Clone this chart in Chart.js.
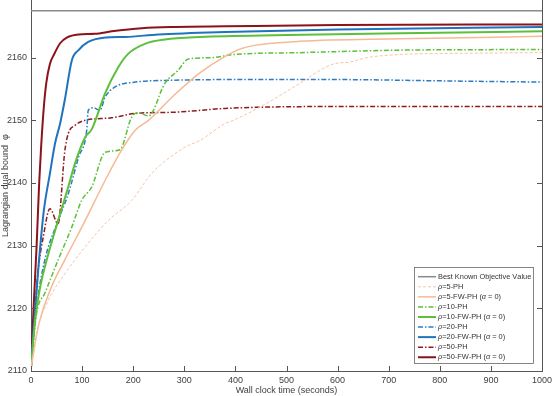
<!DOCTYPE html>
<html>
<head>
<meta charset="utf-8">
<script src="https://cdn.jsdelivr.net/npm/chart.js@4.4.0/dist/chart.umd.min.js"></script>
<style>
  html, body { margin: 0; padding: 0; background: #fff; }
  #wrap { width: 555px; height: 396px; }
</style>
</head>
<body>
<div id="wrap"><canvas id="dualChart" width="555" height="396"></canvas></div>
<script>
// values (wall clock seconds / dual bound)
const bestKnown = 2167.5;
const tBest = [0, 1000];

const t5PH  = [0, 5, 14, 34, 66, 106, 151, 197, 236, 301, 331, 380, 396, 461, 526, 592, 624, 657, 722, 850, 1000];
const v5PH  = [2110.5, 2112.8, 2117, 2121.3, 2125.5, 2129.8, 2134, 2137.2, 2141.5, 2145.7, 2146.8, 2149.5, 2150, 2152.7, 2155.9, 2159, 2159.3, 2160, 2160.5, 2160.7, 2160.8];

const t5FW  = [0, 14, 40, 66, 106, 145, 177, 204, 230, 280, 331, 380, 410, 440, 526, 722, 1000];
const v5FW  = [2110.5, 2117, 2123.4, 2127.7, 2134, 2140.4, 2145.2, 2148.4, 2150, 2154, 2157.6, 2160.2, 2161.4, 2162, 2162.6, 2163.0, 2163.4];

const t10PH = [0, 11, 27, 53, 80, 99, 119, 145, 174, 197, 210, 230, 262, 288, 308, 354, 396, 526, 722, 1000];
const v10PH = [2110.5, 2119.2, 2122.4, 2127.7, 2133, 2137.2, 2139.4, 2144.9, 2145.3, 2150.5, 2151.2, 2150.7, 2155.9, 2158, 2159.8, 2160, 2160.5, 2160.8, 2161.2, 2161.3];

const t10FW = [0, 8, 18, 34, 53, 73, 86, 106, 119, 145, 171, 190, 223, 262, 331, 500, 722, 1000];
const v10FW = [2110.5, 2118.1, 2123.4, 2128.7, 2134, 2139.4, 2143.1, 2147.3, 2148.6, 2154.3, 2158.5, 2160.6, 2162.2, 2162.9, 2163.3, 2163.6, 2163.9, 2164.2];

const t20PH = [0, 11, 27, 53, 73, 93, 109, 112, 122, 135, 145, 164, 204, 282, 380, 600, 800, 1000];
const v20PH = [2110.5, 2120.2, 2127.7, 2134, 2138.3, 2144.1, 2148.4, 2151.6, 2152, 2151.6, 2153.7, 2155.3, 2156.1, 2156.4, 2156.5, 2156.5, 2156.3, 2156.1];

const t20FW = [0, 5, 15, 25, 37, 47, 57, 66, 80, 93, 112, 146, 184, 249, 380, 600, 1000];
const v20FW = [2110.5, 2116.5, 2127, 2135.5, 2141.5, 2146.3, 2149.5, 2153.2, 2159.6, 2161.2, 2162.5, 2163.2, 2163.3, 2163.7, 2164.1, 2164.5, 2164.9];

const t50PH = [0, 8, 14, 24, 37, 53, 66, 73, 86, 106, 158, 204, 282, 380, 600, 1000];
const v50PH = [2110.5, 2120.2, 2126.1, 2131.4, 2135.9, 2133.5, 2145, 2147.9, 2149.2, 2150, 2150.4, 2151.1, 2151.3, 2151.9, 2152.2, 2152.2];

const t50FW = [0, 5, 11, 16, 20, 25, 30, 37, 45, 57, 70, 93, 125, 158, 217, 282, 380, 600, 1000];
const v50FW = [2110.5, 2120, 2130, 2140, 2146, 2152, 2156, 2159, 2160.5, 2162.3, 2163.2, 2163.7, 2163.8, 2164.2, 2164.7, 2164.9, 2165.0, 2165.2, 2165.3];

const seriesNames = [
  "Best Known Objective Value",
  "ρ=5-PH", "ρ=5-FW-PH (α = 0)",
  "ρ=10-PH", "ρ=10-FW-PH (α = 0)",
  "ρ=20-PH", "ρ=20-FW-PH (α = 0)",
  "ρ=50-PH", "ρ=50-FW-PH (α = 0)"
];

const xTicks = { min: 0, max: 1000, step: 100 };
const yTicks = { min: 2110, max: 2169.2, step: 10 };

// ---- styling ----
const axisColor = "#555555";
const textColor = "#404040";
const FONT = "'Liberation Sans', Arial, Helvetica, sans-serif";
const dashDot = [5, 2, 1.5, 2];

function pts(ts, vs) {
  return ts.map((t, i) => ({ x: t, y: vs[i] }));
}

function line(label, data, color, width, dash) {
  return {
    label,
    data,
    borderColor: color,
    backgroundColor: color,
    borderWidth: width,
    borderDash: dash || [],
    pointRadius: 0,
    fill: false,
    cubicInterpolationMode: "monotone"
  };
}

const datasets = [
  line(seriesNames[0], pts(tBest, [bestKnown, bestKnown]), "#8a8a8a", 1.5),
  line(seriesNames[1], pts(t5PH, v5PH), "#f7c3a4", 1, [3, 2]),
  line(seriesNames[2], pts(t5FW, v5FW), "#f6b994", 1.5),
  line(seriesNames[3], pts(t10PH, v10PH), "#5cc03a", 1.5, dashDot),
  line(seriesNames[4], pts(t10FW, v10FW), "#5cc03a", 2),
  line(seriesNames[5], pts(t20PH, v20PH), "#2a7cc4", 1.5, dashDot),
  line(seriesNames[6], pts(t20FW, v20FW), "#1f74bd", 2),
  line(seriesNames[7], pts(t50PH, v50PH), "#8e1a1f", 1.5, dashDot),
  line(seriesNames[8], pts(t50FW, v50FW), "#8a1419", 2)
];

// inward ticks, right edge of the box and the legend in the lower right corner
const boxAndLegend = {
  id: "boxAndLegend",
  afterDraw(chart) {
    const { ctx, chartArea: a, scales: { x, y } } = chart;
    ctx.save();
    ctx.strokeStyle = axisColor;
    ctx.lineWidth = 1;
    ctx.setLineDash([]);
    ctx.beginPath();
    x.ticks.forEach((tk, i) => {
      const px = Math.round(x.getPixelForTick(i)) + 0.5;
      ctx.moveTo(px, a.bottom);
      ctx.lineTo(px, a.bottom - 5);
    });
    y.ticks.forEach((tk, i) => {
      const py = Math.round(y.getPixelForTick(i)) + 0.5;
      ctx.moveTo(a.left, py);
      ctx.lineTo(a.left + 5, py);
      ctx.moveTo(a.right, py);
      ctx.lineTo(a.right - 5, py);
    });
    ctx.moveTo(Math.round(a.right) + 0.5, a.top);
    ctx.lineTo(Math.round(a.right) + 0.5, a.bottom);
    ctx.stroke();

    // legend box
    const bx = 414.5, by = 267.5, bw = 119, bh = 96;
    ctx.fillStyle = "#fff";
    ctx.fillRect(bx, by, bw, bh);
    ctx.strokeStyle = "#666";
    ctx.lineWidth = 0.8;
    ctx.strokeRect(bx, by, bw, bh);

    const rowH = 10.07;
    chart.data.datasets.forEach((ds, i) => {
      const ry = 276.7 + i * rowH;
      ctx.strokeStyle = ds.borderColor;
      ctx.lineWidth = ds.borderWidth;
      ctx.setLineDash(ds.borderDash);
      ctx.beginPath();
      ctx.moveTo(418, ry);
      ctx.lineTo(436, ry);
      ctx.stroke();
      ctx.setLineDash([]);

      // greek letters in italics
      let tx = 438;
      ctx.fillStyle = "#333";
      ctx.textBaseline = "middle";
      for (const ch of ds.label) {
        const greek = ch === "ρ" || ch === "α";
        ctx.font = (greek ? "italic " : "") + "7.4px " + FONT;
        ctx.fillText(ch, tx, ry);
        tx += ctx.measureText(ch).width;
      }
    });
    ctx.restore();
  }
};

new Chart(document.getElementById("dualChart").getContext("2d"), {
  type: "line",
  data: { datasets },
  options: {
    responsive: false,
    animation: false,
    devicePixelRatio: 1,
    layout: { padding: { left: 0, right: 13, top: 0, bottom: 0 } },
    plugins: {
      legend: { display: false },
      tooltip: { enabled: false }
    },
    scales: {
      x: {
        type: "linear",
        min: xTicks.min,
        max: xTicks.max,
        bounds: "data",
        afterFit(scale) {
          scale.height = 25;
          scale.paddingLeft = 0;
          scale.paddingRight = 0;
        },
        grid: { display: true, drawOnChartArea: false, drawTicks: false },
        border: { display: true, color: axisColor, width: 1 },
        ticks: {
          stepSize: xTicks.step,
          padding: 4,
          maxRotation: 0,
          color: textColor,
          font: { family: FONT, size: 9 },
          callback: v => String(v)
        },
        title: {
          display: true,
          text: "Wall clock time (seconds)",
          color: textColor,
          padding: 0,
          font: { family: FONT, size: 9 }
        }
      },
      y: {
        type: "linear",
        min: yTicks.min,
        max: yTicks.max,
        bounds: "data",
        afterFit(scale) {
          scale.width = 31;
          scale.paddingTop = 0;
          scale.paddingBottom = 0;
        },
        grid: { display: true, drawOnChartArea: false, drawTicks: false },
        border: { display: true, color: axisColor, width: 1 },
        ticks: {
          stepSize: yTicks.step,
          includeBounds: false,
          padding: 4,
          color: textColor,
          font: { family: FONT, size: 9 },
          callback: v => String(v)
        },
        title: {
          display: true,
          text: "Lagrangian dual bound  φ",
          color: textColor,
          padding: 0,
          font: { family: FONT, size: 9 }
        }
      }
    }
  },
  plugins: [boxAndLegend]
});
</script>
</body>
</html>
